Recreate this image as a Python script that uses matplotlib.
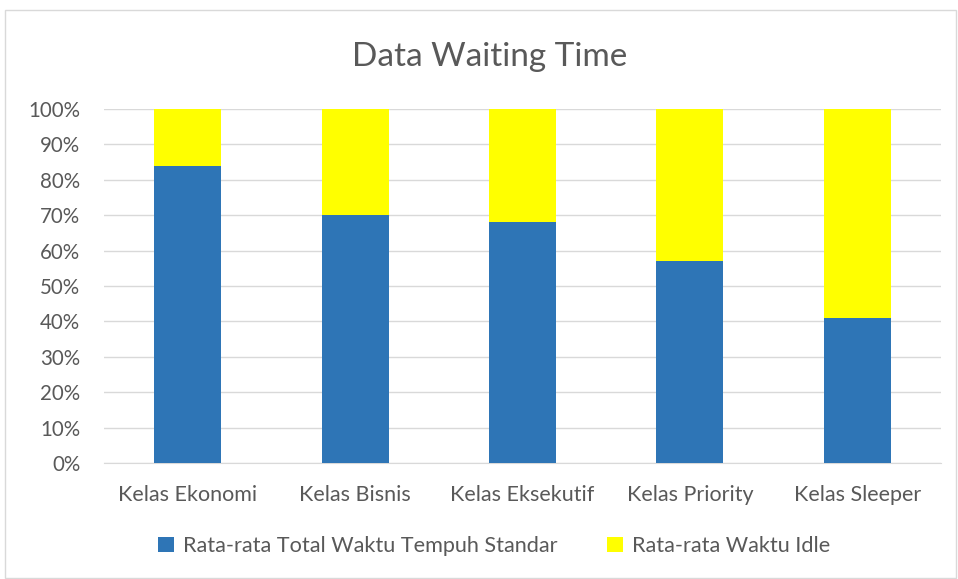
import numpy as np
import matplotlib.pyplot as plt
from matplotlib.ticker import PercentFormatter

plt.rcParams['font.family'] = ['Lato', 'DejaVu Sans']

kelas = ["Kelas Ekonomi", "Kelas Bisnis", "Kelas Eksekutif", "Kelas Priority", "Kelas Sleeper"]
tempuh = [84, 70, 68, 57, 41]
idle = [16, 30, 32, 43, 59]

txt = '#595959'
fig = plt.figure(figsize=(9.58, 5.79), dpi=100)
ax = fig.add_axes([104/958, 1 - 463/579, 837/958, 354/579])

x = np.arange(len(kelas))
ax.bar(x, tempuh, width=0.4, color='#2E75B6', label='Rata-rata Total Waktu Tempuh Standar', zorder=3)
ax.bar(x, idle, width=0.4, bottom=tempuh, color='#FFFF00', label='Rata-rata Waktu Idle', zorder=3)

ax.set_xlim(-0.5, len(kelas) - 0.5)
ax.set_ylim(0, 100)
ax.set_yticks(np.arange(0, 101, 10))
ax.yaxis.set_major_formatter(PercentFormatter(decimals=0))
ax.set_xticks(x)
ax.set_xticklabels(kelas)
ax.grid(axis='y', color='#D9D9D9', linewidth=1, zorder=0)
for s in ['top', 'right', 'left']:
    ax.spines[s].set_visible(False)
ax.spines['bottom'].set_color('#D9D9D9')
ax.tick_params(length=0, colors=txt)
ax.tick_params(axis='x', pad=16, labelsize=15.5)
ax.tick_params(axis='y', pad=17, labelsize=14.8)

fig.text(490/958, 1 - 57/579, "Data Waiting Time", ha='center', va='center', fontsize=24, color=txt)

fig.legend(loc='center', bbox_to_anchor=(494/958, 1 - 546/579), ncol=2, frameon=False,
           fontsize=15.6, labelcolor=txt, handlelength=0.75, handleheight=0.75,
           handletextpad=0.4, columnspacing=2.3)

# chart border
fig.patches.append(plt.Rectangle((5/958, 0.002), 951/958, 1 - 10/579 - 0.002, transform=fig.transFigure,
                                 fill=False, edgecolor='#D9D9D9', linewidth=1))

fig.savefig('out.png', dpi=100)
